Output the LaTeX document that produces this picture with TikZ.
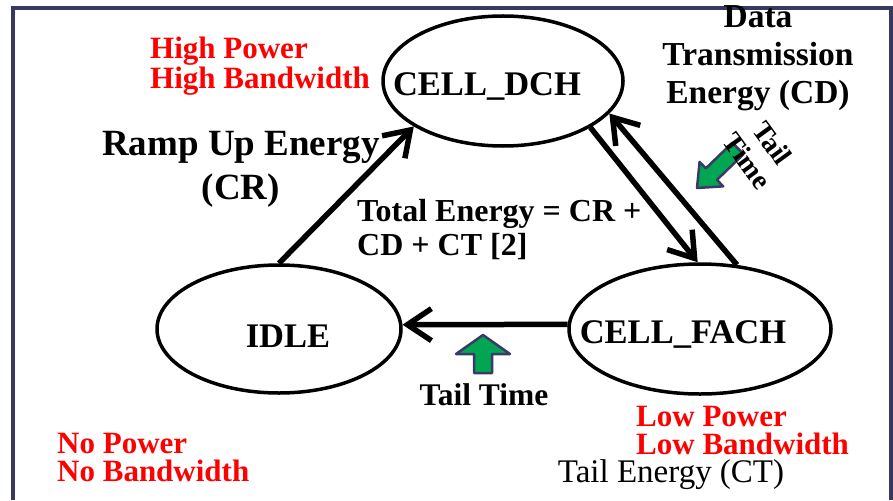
\documentclass[tikz,border=0pt]{standalone}
\usepackage{fontspec}
\setmainfont{Liberation Serif}
\usetikzlibrary{arrows.meta,shapes.geometric}
\definecolor{frameblue}{RGB}{57,56,96}
\definecolor{gfill}{RGB}{0,166,81}
\definecolor{gline}{RGB}{59,58,102}
\definecolor{redtxt}{RGB}{255,0,0}
\begin{document}
\begin{tikzpicture}[x=1pt,y=-1pt,
  state/.style={draw, line width=3.5pt, ellipse, inner sep=0pt},
  lab/.style={font=\fontsize{34.5}{38}\selectfont\bfseries, inner sep=0pt},
  redlab/.style={text=redtxt, font=\fontsize{31}{28}\selectfont\bfseries, align=left, inner sep=0pt, anchor=west},
  blk/.style={font=\fontsize{34}{38}\selectfont\bfseries, inner sep=0pt},
  conn/.style={line width=5.5pt, -{Straight Barb[length=24pt,width=32pt]}},
  garrow/.style={draw=gline, fill=gfill, line width=2.5pt, line join=round}
]
\path[use as bounding box] (0,0) rectangle (893,500);
\draw[frameblue, line width=4pt] (13,500) -- (13,8) -- (890.5,8) -- (890.5,500);

% states
\node[state, minimum width=240pt, minimum height=130pt] (dch) at (503,81) {};
\node[state, minimum width=244pt, minimum height=128pt] (idle) at (279,329) {};
\node[state, minimum width=262pt, minimum height=130pt] (fach) at (700,329) {};
\node[lab] (dchl) at (487,86) {CELL\_DCH};
\node[lab] (idlel) at (288,336) {IDLE};
\node[lab] (fachl) at (683,334) {CELL\_FACH};

% connectors
\draw[conn] (idle.90) -- (dch.207);
\draw[conn] (dch.332) -- (fach.92);
\draw[conn] (fach.60) -- (dch.343);
\draw[conn] (fach.178) -- (idle.2);

% green arrows
\draw[garrow] (483,335) -- ++(27,19) -- ++(-18,0) -- ++(0,19) -- ++(-18,0) -- ++(0,-19) -- ++(-18,0) -- cycle;
\begin{scope}[shift={(697,188)}, rotate=134]
\draw[garrow] (0,0) -- (17,20) -- (8,20) -- (8,57) -- (-8,57) -- (-8,20) -- (-17,20) -- cycle;
\end{scope}

% texts
\node[redlab] (hp) at (150,66) {High Power\\High Bandwidth};
\node[redlab] (np) at (57,457) {No Power\\No Bandwidth};
\node[redlab] (lp) at (636,430) {Low Power\\Low Bandwidth};
\node[blk, font=\fontsize{37}{44}\selectfont\bfseries, align=center] (ramp) at (241,169) {Ramp Up Energy\\(CR)};
\node[blk, font=\fontsize{33.5}{38}\selectfont\bfseries, align=center] (data) at (758,58) {Data\\Transmission\\Energy (CD)};
\node[blk, font=\fontsize{32}{34}\selectfont\bfseries, align=left, anchor=west] (total) at (357,230) {Total Energy = CR +\\CD + CT [2]};
\node[blk, font=\fontsize{31.5}{33}\selectfont\bfseries] (tailt) at (484,395) {Tail Time};
\node[blk, font=\fontsize{33}{36}\selectfont] (tailE) at (671,475) {Tail Energy (CT)};
\node[blk, font=\fontsize{28}{31}\selectfont\bfseries, align=center, rotate=-54] (tt2) at (760,152) {Tail\\Time};
\end{tikzpicture}
\end{document}
